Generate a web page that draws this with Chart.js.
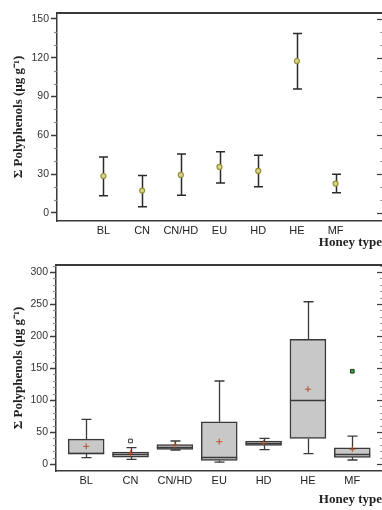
<!DOCTYPE html>
<html>
<head>
<meta charset="utf-8">
<script src="https://cdn.jsdelivr.net/npm/chart.js@4.4.1/dist/chart.umd.min.js"></script>
<style>
html, body { margin: 0; padding: 0; background: #fff; }
.panel { position: absolute; left: 0; width: 382px; height: 255px; }
</style>
</head>
<body>
<div class="panel" style="top:0"><canvas id="meanChart" width="382" height="255"></canvas></div>
<div class="panel" style="top:255px"><canvas id="boxChart" width="382" height="255"></canvas></div>
<script>
// tipos de miel (categorías)
var honeyTypes = ['BL', 'CN', 'CN/HD', 'EU', 'HD', 'HE', 'MF'];

// panel superior: media con barras de error
var meanValues = [28.6, 17.3, 29.4, 35.6, 32.5, 117.5, 22.7];
var errHigh = [43.3, 28.9, 45.6, 47.4, 44.6, 138.7, 29.9];
var errLow = [13.4, 4.9, 13.7, 23.2, 20.3, 95.9, 15.7];
var meanTicks = [0, 30, 60, 90, 120, 150];

// panel inferior: diagrama de cajas
var whiskerLow = [9.9, 7.3, 21.9, 3.1, 22.4, 16.1, 6.3];
var q1 = [15.6, 10.9, 22.9, 5.7, 29.2, 40, 10.4];
var medians = [16.5, 15.6, 26.6, 10.4, 32.3, 100, 15.6];
var q3 = [39, 18.8, 30.2, 66.1, 36, 194.8, 25.5];
var whiskerHigh = [69.8, 25.5, 36, 129.7, 40, 253.6, 43.7];
var boxMeans = [27.6, 16.7, 29.7, 34.9, 33, 117, 23];
var outlierTypes = ['CN', 'MF'];
var outlierValues = [36, 145];
var boxTicks = [0, 50, 100, 150, 200, 250, 300];

var axisColor = '#3a3a3a';
var yTitle = 'Σ Polyphenols (µg g⁻¹)';

// borde superior, ticks menores a la izquierda y ticks del eje derecho
var frameTicks = {
    id: 'frameTicks',
    afterDraw: function(chart, args, opts) {
        var ctx = chart.ctx, area = chart.chartArea, y = chart.scales.y;
        ctx.save();
        ctx.strokeStyle = axisColor;
        ctx.lineWidth = 2;
        ctx.beginPath();
        ctx.moveTo(area.left, area.top);
        ctx.lineTo(area.right, area.top);
        ctx.stroke();
        ctx.lineWidth = 1.2;
        for (var v = 0; v <= y.max; v += opts.minor) {
            var py = Math.round(y.getPixelForValue(v)) + 0.5;
            var major = v % opts.major === 0;
            ctx.beginPath();
            if (!major) {
                ctx.strokeStyle = '#888';
                ctx.moveTo(area.left - 3, py);
                ctx.lineTo(area.left, py);
            }
            ctx.stroke();
            ctx.beginPath();
            ctx.strokeStyle = major ? axisColor : '#999';
            ctx.moveTo(area.right - (major ? 5 : 2), py);
            ctx.lineTo(area.right, py);
            ctx.stroke();
        }
        ctx.restore();
    }
};

// barras de error del panel superior
var errorBars = {
    id: 'errorBars',
    beforeDatasetsDraw: function(chart) {
        var ctx = chart.ctx, x = chart.scales.x, y = chart.scales.y;
        ctx.save();
        ctx.strokeStyle = '#2a2a2a';
        ctx.lineWidth = 1.5;
        honeyTypes.forEach(function(t, i) {
            var px = Math.round(x.getPixelForValue(i)) + 0.5;
            var top = y.getPixelForValue(errHigh[i]);
            var bot = y.getPixelForValue(errLow[i]);
            ctx.beginPath();
            ctx.moveTo(px, top); ctx.lineTo(px, bot);
            ctx.moveTo(px - 4.5, top); ctx.lineTo(px + 4.5, top);
            ctx.moveTo(px - 4.5, bot); ctx.lineTo(px + 4.5, bot);
            ctx.stroke();
        });
        ctx.restore();
    }
};

// bigotes y medianas de las cajas
var boxParts = {
    id: 'boxParts',
    beforeDatasetsDraw: function(chart) {
        var ctx = chart.ctx, x = chart.scales.x, y = chart.scales.y;
        ctx.save();
        ctx.strokeStyle = axisColor;
        ctx.lineWidth = 1.3;
        honeyTypes.forEach(function(t, i) {
            var px = Math.round(x.getPixelForValue(i)) + 0.5;
            var hi = y.getPixelForValue(whiskerHigh[i]);
            var lo = y.getPixelForValue(whiskerLow[i]);
            ctx.beginPath();
            ctx.moveTo(px, y.getPixelForValue(q3[i])); ctx.lineTo(px, hi);
            ctx.moveTo(px - 5, hi); ctx.lineTo(px + 5, hi);
            ctx.moveTo(px, y.getPixelForValue(q1[i])); ctx.lineTo(px, lo);
            ctx.moveTo(px - 5, lo); ctx.lineTo(px + 5, lo);
            ctx.stroke();
        });
        ctx.restore();
    },
    afterDatasetDraw: function(chart, args) {
        if (args.index !== 0) return;
        var ctx = chart.ctx, x = chart.scales.x, y = chart.scales.y;
        ctx.save();
        ctx.strokeStyle = axisColor;
        ctx.lineWidth = 1.5;
        honeyTypes.forEach(function(t, i) {
            var px = x.getPixelForValue(i);
            var py = Math.round(y.getPixelForValue(medians[i])) + 0.5;
            ctx.beginPath();
            ctx.moveTo(px - 18, py); ctx.lineTo(px + 18, py);
            ctx.stroke();
        });
        ctx.restore();
    }
};

function yScale(min, max, ticks, width) {
    return {
        min: min,
        max: max,
        afterBuildTicks: function(s) { s.ticks = ticks.map(function(v) { return {value: v}; }); },
        afterFit: function(s) { s.width = width; s.paddingTop = 0; s.paddingBottom = 0; },
        grid: {drawOnChartArea: false, tickLength: 6, tickColor: axisColor, tickWidth: 1.5},
        border: {color: axisColor, width: 1.5},
        ticks: {padding: 2, color: '#333', font: {family: 'Liberation Sans', size: 10.5}},
        title: {
            display: true, text: yTitle, color: '#222',
            font: {family: 'Liberation Serif', size: 13, weight: 'bold'},
            padding: {top: 11, bottom: 0}
        }
    };
}

function xScale(min, max, height, titlePad) {
    return {
        type: 'linear',
        min: min,
        max: max,
        offset: false,
        afterBuildTicks: function(s) { s.ticks = honeyTypes.map(function(t, i) { return {value: i}; }); },
        afterFit: function(s) { s.height = height; s.paddingLeft = 0; s.paddingRight = 0; },
        grid: {display: false, drawTicks: false, offset: false},
        border: {color: axisColor, width: 1.5},
        ticks: {
            padding: 3, autoSkip: false, maxRotation: 0, color: '#222',
            font: {family: 'Liberation Sans', size: 11},
            callback: function(v) { return honeyTypes[v]; }
        },
        title: {
            display: true, text: 'Honey type', align: 'end', color: '#222',
            font: {family: 'Liberation Serif', size: 13, weight: 'bold'},
            padding: {top: 0, bottom: titlePad}
        }
    };
}

var meanChart = new Chart(document.getElementById('meanChart').getContext('2d'), {
    type: 'scatter',
    data: {
        datasets: [{
            data: honeyTypes.map(function(t, i) { return {x: i, y: meanValues[i]}; }),
            pointStyle: 'circle',
            pointRadius: 2.5,
            backgroundColor: '#d9d38c',
            borderColor: '#969230',
            borderWidth: 1.2
        }]
    },
    options: {
        responsive: false,
        animation: false,
        layout: {autoPadding: false, padding: {top: 13, left: 0, right: 0, bottom: 0}},
        plugins: {legend: {display: false}, tooltip: {enabled: false}, frameTicks: {minor: 10, major: 30}},
        scales: {
            x: xScale(-1.2, 7.2, 34, 5),
            y: yScale(-6.2, 154.6, meanTicks, 57)
        }
    },
    plugins: [errorBars, frameTicks]
});

var boxChart = new Chart(document.getElementById('boxChart').getContext('2d'), {
    type: 'bar',
    data: {
        datasets: [
            {
                type: 'bar',
                data: honeyTypes.map(function(t, i) { return {x: i, y: [q1[i], q3[i]]}; }),
                backgroundColor: '#c8c8c8',
                borderColor: axisColor,
                borderWidth: 1.5,
                borderSkipped: false,
                barThickness: 36,
                grouped: false,
                order: 2
            },
            {
                type: 'scatter',
                data: honeyTypes.map(function(t, i) { return {x: i, y: boxMeans[i]}; }),
                pointStyle: 'cross',
                pointRadius: 3,
                borderColor: '#b3542d',
                borderWidth: 1,
                order: 1
            },
            {
                type: 'scatter',
                data: outlierTypes.map(function(t, k) { return {x: honeyTypes.indexOf(t), y: outlierValues[k]}; }),
                pointStyle: 'rect',
                pointRadius: 2.6,
                backgroundColor: ['#ffffff', '#3aa04a'],
                borderColor: ['#333333', '#1e3b1e'],
                borderWidth: 1,
                order: 0
            }
        ]
    },
    options: {
        responsive: false,
        animation: false,
        layout: {autoPadding: false, padding: {top: 10, left: 0, right: 0, bottom: 0}},
        plugins: {legend: {display: false}, tooltip: {enabled: false}, frameTicks: {minor: 10, major: 50}},
        scales: {
            x: xScale(-0.68, 6.67, 39, 3),
            y: yScale(-10.9, 311, boxTicks, 56)
        }
    },
    plugins: [boxParts, frameTicks]
});
</script>
</body>
</html>
